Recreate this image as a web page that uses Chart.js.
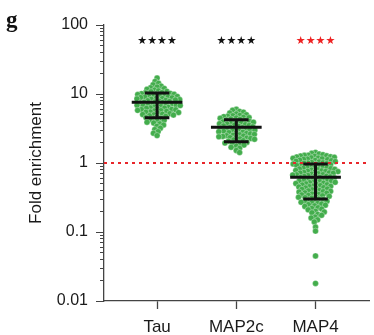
<!DOCTYPE html>
<html>
<head>
<meta charset="utf-8">
<script src="https://cdn.jsdelivr.net/npm/chart.js@4.4.1/dist/chart.umd.min.js"></script>
<style>
  html, body { margin: 0; padding: 0; background: #fff; }
</style>
</head>
<body>
<canvas id="foldChart" width="374" height="335"></canvas>
<script>
// data
const groups = ['Tau', 'MAP2c', 'MAP4'];

const tauValues = [
  17.0,
  15.2, 14.3, 13.6,
  13.0, 12.6, 12.3, 12.0, 11.7, 11.4,
  11.1, 10.9, 10.8, 10.5, 10.4, 10.2, 10.1, 10.0, 9.9, 9.8, 9.6, 9.5,
  9.4, 9.3, 9.2, 9.1, 9.0, 8.9, 8.8, 8.7, 8.6, 8.5, 8.4, 8.3, 8.2, 8.1,
  8.0, 7.9, 7.8, 7.7, 7.6, 7.5, 7.4, 7.3, 7.2, 7.1, 7.0, 6.95, 6.9, 6.85,
  6.8, 6.7, 6.6, 6.5, 6.4, 6.3, 6.25, 6.2, 6.1, 6.0, 5.95, 5.9, 5.8,
  5.75, 5.7, 5.6, 5.5, 5.45, 5.4, 5.3, 5.2, 5.1, 5.05, 5.0, 4.95,
  4.85, 4.75, 4.65, 4.55, 4.45, 4.35, 4.25, 4.15,
  4.05, 3.9, 3.8, 3.7, 3.55,
  3.4, 3.2, 3.05,
  2.85, 2.7,
  2.5
];

const map2cValues = [
  6.0,
  5.8, 5.6, 5.45, 5.3, 5.15,
  5.0, 4.9, 4.85, 4.75, 4.7, 4.6, 4.55, 4.5, 4.45, 4.35, 4.3,
  4.2, 4.1, 4.05, 4.0, 3.95, 3.9, 3.85, 3.8, 3.75, 3.7, 3.65, 3.6,
  3.55, 3.5, 3.45, 3.4, 3.35, 3.3, 3.25, 3.2, 3.15, 3.12, 3.08, 3.05,
  3.0, 2.96, 2.92, 2.88, 2.84, 2.8, 2.76, 2.72, 2.68, 2.64, 2.6, 2.57,
  2.53, 2.49, 2.46, 2.43, 2.4, 2.37, 2.33, 2.3, 2.27, 2.24, 2.21,
  2.16, 2.11, 2.07, 2.03, 1.99, 1.95, 1.91, 1.87,
  1.82, 1.75, 1.69, 1.63,
  1.52, 1.42
];

const map4Values = [
  1.42, 1.38, 1.35, 1.32,
  1.30, 1.29, 1.27, 1.26, 1.25, 1.23, 1.22, 1.21, 1.19, 1.18, 1.17, 1.15, 1.14,
  1.13, 1.12, 1.1, 1.09, 1.08, 1.06, 1.05, 1.04, 1.02, 1.01, 1.0, 0.99, 0.98,
  0.97, 0.96, 0.95, 0.93, 0.92, 0.91, 0.9, 0.88, 0.87, 0.86, 0.85, 0.84, 0.83,
  0.82, 0.81, 0.8, 0.79, 0.78, 0.77, 0.76, 0.755, 0.75, 0.74, 0.73, 0.72, 0.715, 0.71,
  0.70, 0.69, 0.68, 0.675, 0.67, 0.66, 0.65, 0.645, 0.64, 0.63, 0.62, 0.615, 0.61, 0.60,
  0.59, 0.58, 0.575, 0.57, 0.56, 0.55, 0.545, 0.54, 0.53, 0.525, 0.52, 0.51, 0.505,
  0.50, 0.49, 0.485, 0.48, 0.47, 0.465, 0.46, 0.455, 0.45, 0.44, 0.435, 0.43,
  0.42, 0.415, 0.41, 0.40, 0.395, 0.39, 0.385, 0.38, 0.375, 0.37, 0.365,
  0.355, 0.35, 0.345, 0.34, 0.335, 0.33, 0.325, 0.32, 0.315, 0.31,
  0.30, 0.295, 0.29, 0.285, 0.28, 0.275, 0.27, 0.265, 0.26,
  0.255, 0.25, 0.245, 0.24, 0.235, 0.225, 0.22,
  0.215, 0.21, 0.2, 0.195, 0.19,
  0.18, 0.175, 0.165, 0.16,
  0.15, 0.14,
  0.118, 0.103, 0.045, 0.018
];

// mean and SD bars
const means = [7.6, 3.29, 0.62];
const sdHigh = [10.3, 4.24, 0.97];
const sdLow = [4.53, 2.04, 0.30];

const stars = ['****', '****', '****'];
const starColors = ['#111111', '#111111', '#ee2222'];
const starLevel = 58;

const yTicks = [0.01, 0.1, 1, 10, 100];
const yTickLabels = ['0.01', '0.1', '1', '10', '100'];
const refLevel = 1;

const dotColor = '#43ad4c';
const xMin = 0.33, xMax = 3.68;
const meanHalf = 0.32, capHalf = 0.155;

function summaryPoints() {
  const pts = [];
  groups.forEach((g, i) => {
    const x = i + 1;
    pts.push(
      {x: x - meanHalf, y: means[i]}, {x: x + meanHalf, y: means[i]}, {x: x, y: null},
      {x: x - capHalf, y: sdHigh[i]}, {x: x + capHalf, y: sdHigh[i]}, {x: x, y: null},
      {x: x, y: sdHigh[i]}, {x: x, y: sdLow[i]}, {x: x, y: null},
      {x: x - capHalf, y: sdLow[i]}, {x: x + capHalf, y: sdLow[i]}, {x: x, y: null}
    );
  });
  return pts;
}

const allValues = [tauValues, map2cValues, map4Values];

function isDecade(v) {
  return yTicks.some(t => Math.abs(t - v) / t < 1e-6);
}

const decorPlugin = {
  id: 'decor',
  afterDraw(chart) {
    const {ctx, scales} = chart;
    ctx.save();
    // panel letter
    ctx.fillStyle = '#111';
    ctx.font = 'bold 23px "Liberation Serif", "DejaVu Serif", serif';
    ctx.textAlign = 'left';
    ctx.textBaseline = 'alphabetic';
    ctx.fillText('g', 6, 27);
    // significance stars
    ctx.font = '11px "DejaVu Sans", sans-serif';
    ctx.textAlign = 'center';
    ctx.textBaseline = 'middle';
    stars.forEach((s, i) => {
      ctx.fillStyle = starColors[i];
      ctx.fillText(s.replace(/\*/g, '\u2605'), scales.x.getPixelForValue(i + 1), scales.y.getPixelForValue(starLevel));
    });
    ctx.restore();
  }
};

const chart = new Chart(document.getElementById('foldChart'), {
  type: 'scatter',
  data: {
    datasets: [
      {
        label: 'mean ± SD',
        data: summaryPoints(),
        showLine: true,
        borderColor: '#111',
        borderWidth: 3,
        borderCapStyle: 'butt',
        pointRadius: 0,
        order: 0
      },
      {
        label: 'reference',
        data: [{x: xMin, y: refLevel}, {x: xMax, y: refLevel}],
        showLine: true,
        borderColor: '#e8262b',
        borderWidth: 2,
        borderDash: [3, 4],
        pointRadius: 0,
        order: 1
      },
      ...groups.map((g, i) => ({
        label: g,
        data: allValues[i].map(v => ({x: i + 1, y: v})),
        backgroundColor: dotColor,
        borderColor: 'rgba(255,255,255,0.55)',
        borderWidth: 0.6,
        pointRadius: 3,
        order: 2
      }))
    ]
  },
  options: {
    responsive: false,
    animation: false,
    layout: { padding: { top: 25, right: 0, left: 0, bottom: 0 } },
    plugins: { legend: { display: false }, tooltip: { enabled: false } },
    scales: {
      x: {
        type: 'linear',
        min: xMin,
        max: xMax,
        afterBuildTicks: scale => { scale.ticks = groups.map((g, i) => ({value: i + 1})); },
        afterFit: scale => { scale.height = 34; },
        ticks: {
          callback: (v) => groups[Math.round(v) - 1],
          color: '#1a1a1a',
          padding: 8,
          maxRotation: 0,
          font: { family: '"Liberation Sans", Arial, sans-serif', size: 17 }
        },
        grid: { drawOnChartArea: false, tickLength: 8, tickColor: '#444', tickWidth: 1.3 },
        border: { color: '#444', width: 1.3 }
      },
      y: {
        type: 'logarithmic',
        min: yTicks[0],
        max: yTicks[yTicks.length - 1],
        afterBuildTicks: scale => {
          const t = [];
          for (let d = 0; d < yTicks.length - 1; d++) {
            for (let m = 1; m <= 9; m++) t.push({value: yTicks[d] * m});
          }
          t.push({value: yTicks[yTicks.length - 1]});
          scale.ticks = t;
        },
        afterFit: scale => { scale.width = 104; },
        ticks: {
          callback: (v) => {
            const k = yTicks.findIndex(t => Math.abs(t - v) / t < 1e-6);
            return k >= 0 ? yTickLabels[k] : '';
          },
          autoSkip: false,
          color: '#1a1a1a',
          padding: 8,
          font: { family: '"Liberation Sans", Arial, sans-serif', size: 16 }
        },
        grid: {
          drawOnChartArea: false,
          tickLength: 8,
          tickColor: '#444',
          tickWidth: 1,
          tickBorderDash: (c) => (c.tick && isDecade(c.tick.value)) ? [] : [0, 4, 20]
        },
        border: { color: '#444', width: 1.3 },
        title: {
          display: true,
          text: 'Fold enrichment',
          color: '#1a1a1a',
          padding: { top: 26, bottom: 0 },
          font: { family: '"Liberation Sans", Arial, sans-serif', size: 17 }
        }
      }
    }
  },
  plugins: [decorPlugin]
});

// beeswarm layout: place each dot as close to the group centre as possible without overlap
function swarmOffsets(values, yScale, spacing) {
  const items = values.map((v, k) => ({k, py: yScale.getPixelForValue(v), px: 0}));
  items.sort((a, b) => a.py - b.py);
  const placed = [];
  items.forEach((it, n) => {
    const near = placed.filter(p => Math.abs(p.py - it.py) < spacing);
    const cands = [0];
    near.forEach(p => {
      const dx = Math.sqrt(spacing * spacing - (p.py - it.py) ** 2);
      cands.push(p.px + dx, p.px - dx);
    });
    const side = n % 2 === 0 ? 1 : -1;
    cands.sort((a, b) => (Math.abs(a) - Math.abs(b)) || (side * (b - a)));
    for (const c of cands) {
      if (near.every(p => (p.px - c) ** 2 + (p.py - it.py) ** 2 >= spacing * spacing - 0.01)) {
        it.px = c;
        break;
      }
    }
    placed.push(it);
  });
  const out = new Array(values.length);
  items.forEach(it => { out[it.k] = it.px; });
  return out;
}

const xs = chart.scales.x, ys = chart.scales.y;
groups.forEach((g, i) => {
  const ds = chart.data.datasets[i + 2];
  const offsets = swarmOffsets(allValues[i], ys, 3.9);
  const cx = xs.getPixelForValue(i + 1);
  ds.data = allValues[i].map((v, k) => ({x: xs.getValueForPixel(cx + offsets[k]), y: v}));
});
chart.update('none');
</script>
</body>
</html>
